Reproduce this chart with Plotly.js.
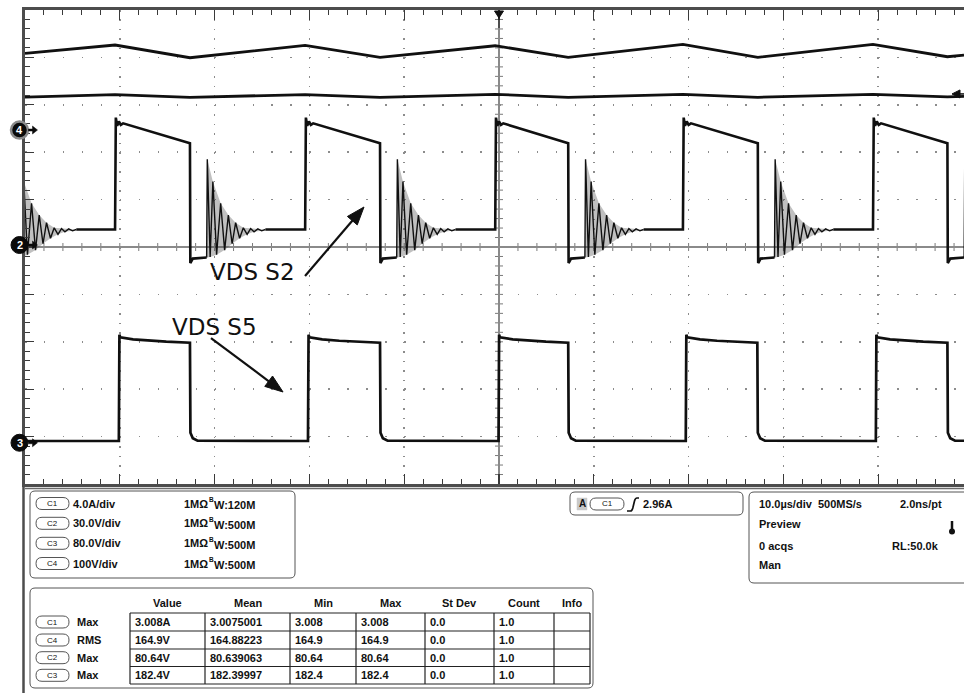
<!DOCTYPE html>
<html>
<head>
<meta charset="utf-8">
<script src="https://cdn.plot.ly/plotly-3.0.1.min.js"></script>
<style>
  html, body { margin: 0; padding: 0; background: #ffffff; }
  #scope { width: 964px; height: 693px; }
</style>
</head>
<body>
<div id="scope"></div>
<script>
// ---------------- acquisition settings ----------------
const channelNames     = ['C1', 'C2', 'C3', 'C4'];
const channelScales    = [4.0, 30.0, 80.0, 100.0];      // units / div
const channelPositions = [2.468, 0.042, -4.13, 2.468];  // ground level, div from centre
const channelBandwidth = ['120M', '500M', '500M', '500M'];
const channelScaleText = ['4.0A/div', '30.0V/div', '80.0V/div', '100V/div'];
const timeRange   = [-50, 49.05];   // µs, trigger at t = 0 (10 µs/div)
const triggerLevel = 2.96;          // A, rising edge on C1

// ---------------- C4: bus voltage (V) ----------------
const c4Time  = [-50, -40.5, -32.6, -20.45, -12.55, -0.4, 7.3, 19.4, 27.3, 39.45, 47.3, 49.05];
const c4Volts = [161.8, 179.3, 152.5, 178.5, 153.3, 177.8, 153.3, 180.8, 153.3, 180.8, 154.6, 158.0];

// ---------------- C1: current (A) ----------------
const c1Time = [-50, -40.5, -32.6, -20.45, -12.55, -0.4, 7.3, 19.4, 27.3, 39.45, 47.3, 49.05];
const c1Amps = [2.78, 2.99, 2.76, 2.99, 2.76, 3.008, 2.76, 3.0, 2.76, 3.0, 2.79, 2.84];

// ---------------- C2: VDS S2 (V) ----------------
const c2RiseTimes  = [-40.5, -20.45, -0.4, 19.4, 39.45];
const c2FallTimes  = [-52.55, -32.6, -12.55, 7.3, 27.3, 47.3];
const c2RiseOffset = [0, 0.08, 0.22, 0.4, 0.6, 0.85];          // µs after rising edge
const c2RiseVolts  = [9.8, 80.64, 75.5, 78.2, 76.0, 77.0];
const c2FallOffset = [0, 0.04, 0.3, 1.76];                      // µs after falling edge
const c2FallVolts  = [64.4, -11.4, -8.6, -7.9];
// ringing extrema after the turn-on of the complementary switch (peak, trough, peak, ...)
const c2RingOffset = [0.07, 0.37, 0.66, 1.05, 1.48, 1.9, 2.29, 2.69, 3.06, 3.48, 3.87, 4.27, 4.64, 5.0, 5.4, 5.8, 6.2];
const c2RingVolts  = [54.2, -7.6, 40.1, -6.2, 26.4, -3.2, 19.0, 0.8, 14.1, 4.3, 10.9, 6.8, 10.4, 8.4, 10.2, 9.0, 9.8];

// ---------------- C3: VDS S5 (V) ----------------
const c3RiseTimes  = [-40.1, -20.15, -0.05, 19.7, 39.75];
const c3FallTimes  = [-32.6, -12.55, 7.3, 27.25, 47.3];
const c3RiseOffset = [0, 0.06, 0.15, 1.5, 3.3, 5.0];
const c3RiseVolts  = [3.0, 182.4, 178.0, 174.6, 172.2, 170.6];
const c3FallOffset = [0, 0.05, 0.3, 0.8];
const c3FallVolts  = [168.9, 17.0, 7.5, 3.5];
const c3LowVolts   = 3.0;

// ---------------- measurement table ----------------
const measHeaders = ['Value', 'Mean', 'Min', 'Max', 'St Dev', 'Count', 'Info'];
const measSource  = ['C1', 'C4', 'C2', 'C3'];
const measType    = ['Max', 'RMS', 'Max', 'Max'];
const measValue   = ['3.008A', '164.9V', '80.64V', '182.4V'];
const measMean    = ['3.0075001', '164.88223', '80.639063', '182.39997'];
const measMin     = ['3.008', '164.9', '80.64', '182.4'];
const measMax     = ['3.008', '164.9', '80.64', '182.4'];
const measStdDev  = ['0.0', '0.0', '0.0', '0.0'];
const measCount   = ['1.0', '1.0', '1.0', '1.0'];
const measInfo    = ['', '', '', ''];

// ---------------- helpers ----------------
function chIdx(name) { return channelNames.indexOf(name); }
function toDiv(name, values) {
  const i = chIdx(name);
  return values.map(v => (v === null ? null : v / channelScales[i] + channelPositions[i]));
}

function buildC2() {
  const mx = [], my = [], rx = [], ry = [], env = [];
  c2FallTimes.forEach(tf => {
    c2FallOffset.forEach((o, k) => { mx.push(tf + o); my.push(c2FallVolts[k]); });
    const ringStart = tf + c2FallOffset[c2FallOffset.length - 1];
    const startV = c2FallVolts[c2FallVolts.length - 1];
    rx.push(ringStart); ry.push(startV);
    const up = [], dn = [];
    c2RingOffset.forEach((o, k) => {
      rx.push(ringStart + o); ry.push(c2RingVolts[k]);
      (k % 2 === 0 ? up : dn).push([ringStart + o, c2RingVolts[k]]);
    });
    rx.push(null); ry.push(null);
    // envelope of the dense ringing: peaks forward, troughs back
    const poly = [[ringStart, startV]].concat(up, dn.slice().reverse());
    env.push({ x: poly.map(p => p[0]), y: poly.map(p => p[1]) });
    mx.push(null); my.push(null);
    const ringEnd = ringStart + c2RingOffset[c2RingOffset.length - 1];
    mx.push(ringEnd); my.push(c2RingVolts[c2RingVolts.length - 1]);
    const tr = c2RiseTimes.find(t => t > tf);
    if (tr !== undefined) {
      c2RiseOffset.forEach((o, k) => { mx.push(tr + o); my.push(c2RiseVolts[k]); });
    } else {
      mx.push(timeRange[1] + 5); my.push(c2RiseVolts[0]);
    }
  });
  return { mx, my, rx, ry, env };
}

function buildC3() {
  const x = [timeRange[0]], y = [c3LowVolts];
  c3RiseTimes.forEach((tr, i) => {
    c3RiseOffset.forEach((o, k) => { x.push(tr + o); y.push(c3RiseVolts[k]); });
    const tf = c3FallTimes[i];
    c3FallOffset.forEach((o, k) => { x.push(tf + o); y.push(c3FallVolts[k]); });
  });
  x.push(timeRange[1] + 5); y.push(c3LowVolts);
  return { x, y };
}

const c2 = buildC2();
const c3 = buildC3();
const ink = '#101010';

const traces = [];
c2.env.forEach(e => traces.push({
  x: e.x, y: toDiv('C2', e.y), mode: 'lines', fill: 'toself', fillcolor: 'rgba(70,70,70,0.34)',
  line: { width: 0, color: 'rgba(0,0,0,0)' }, name: 'C2 ringing band'
}));
traces.push(
  { x: c4Time, y: toDiv('C4', c4Volts), name: 'C4', mode: 'lines', line: { color: ink, width: 2.8 } },
  { x: c1Time, y: toDiv('C1', c1Amps), name: 'C1', mode: 'lines', line: { color: ink, width: 2.8 } },
  { x: c2.mx, y: toDiv('C2', c2.my), name: 'C2', mode: 'lines', line: { color: ink, width: 2.6 }, connectgaps: false },
  { x: c2.rx, y: toDiv('C2', c2.ry), name: 'C2 ringing', mode: 'lines', line: { color: ink, width: 1.4 }, connectgaps: false },
  { x: c3.x, y: toDiv('C3', c3.y), name: 'C3', mode: 'lines', line: { color: ink, width: 2.7 } }
);

// ---------------- screen geometry ----------------
const L = 25, T = 10, W = 939, H = 474;
const px = v => (v - L) / W;
const py = v => (T + H - v) / H;
const P = (x, y) => (x - L).toFixed(2) + ',' + (T + H - y).toFixed(2);

const shapes = [];
const ann = [];

function pixShape(d, fill, lineColor, lineWidth) {
  shapes.push({
    type: 'path', xref: 'paper', yref: 'paper', xsizemode: 'pixel', ysizemode: 'pixel',
    xanchor: 0, yanchor: 0, path: d, fillcolor: fill || 'rgba(0,0,0,0)',
    line: { color: lineColor || 'rgba(0,0,0,0)', width: lineWidth === undefined ? 1 : lineWidth },
    layer: 'above'
  });
}
function roundRect(x0, y0, x1, y1, r) {
  return 'M' + P(x0 + r, y0) + ' L' + P(x1 - r, y0) + ' Q' + P(x1, y0) + ' ' + P(x1, y0 + r) +
    ' L' + P(x1, y1 - r) + ' Q' + P(x1, y1) + ' ' + P(x1 - r, y1) +
    ' L' + P(x0 + r, y1) + ' Q' + P(x0, y1) + ' ' + P(x0, y1 - r) +
    ' L' + P(x0, y0 + r) + ' Q' + P(x0, y0) + ' ' + P(x0 + r, y0) + ' Z';
}
function text(x, y, s, opt) {
  opt = opt || {};
  ann.push({
    xref: 'paper', yref: 'paper', x: px(x), y: py(y), text: s, showarrow: false,
    xanchor: opt.anchor || 'left', yanchor: 'middle',
    font: { family: opt.family || 'Liberation Sans, Arial, sans-serif', size: opt.size || 11, color: opt.color || '#111' }
  });
}
function pill(x0, cy, w, h, label) {
  pixShape(roundRect(x0, cy - h / 2, x0 + w, cy + h / 2, h / 2), '#ffffff', '#555555', 1);
  text(x0 + w / 2, cy, label, { anchor: 'center', size: 8 });
}

// ---------------- graticule extras ----------------
// ticks on the centre cross-hair
for (let t = -48; t <= 48; t += 2) {
  if (t === 0) continue;
  shapes.push({ type: 'line', xref: 'x', yref: 'y', x0: t, x1: t, ysizemode: 'pixel', yanchor: 0, y0: -4, y1: 4,
    line: { color: '#7a7a7a', width: 1 }, layer: 'below' });
}
for (let k = -24; k <= 24; k++) {
  if (k === 0) continue;
  const v = k * 0.2;
  shapes.push({ type: 'line', xref: 'x', yref: 'y', y0: v, y1: v, xsizemode: 'pixel', xanchor: 0, x0: -4, x1: 4,
    line: { color: '#7a7a7a', width: 1 }, layer: 'below' });
}
// second rule under the graticule and left rule continuing down
shapes.push({ type: 'line', xref: 'paper', yref: 'paper', x0: 0, x1: 1.02, y0: py(488.5), y1: py(488.5),
  line: { color: '#6a6a6a', width: 1.5 }, layer: 'above' });
shapes.push({ type: 'line', xref: 'paper', yref: 'paper', x0: px(23.5), x1: px(23.5), y0: py(485), y1: py(693),
  line: { color: '#4d4d4d', width: 2.5 }, layer: 'above' });

// trigger position marker (top centre)
shapes.push({ type: 'path', xref: 'x', yref: 'paper', xsizemode: 'pixel', ysizemode: 'pixel', xanchor: 0, yanchor: 1,
  path: 'M-4.5,-1 L4.5,-1 L0,-8 Z', fillcolor: ink, line: { color: ink, width: 1 }, layer: 'above' });
shapes.push({ type: 'path', xref: 'x', yref: 'paper', xsizemode: 'pixel', ysizemode: 'pixel', xanchor: 0, yanchor: 1,
  path: 'M0,-8 L0,-18', line: { color: ink, width: 1 }, layer: 'above' });

// trigger level marker (right edge, C1)
const trigDiv = triggerLevel / channelScales[chIdx('C1')] + channelPositions[chIdx('C1')];
shapes.push({ type: 'path', xref: 'paper', yref: 'y', xsizemode: 'pixel', ysizemode: 'pixel', xanchor: 1, yanchor: trigDiv,
  path: 'M-12,1 L-4,5 L-4,-3 Z', fillcolor: ink, line: { color: ink, width: 1 }, layer: 'above' });
shapes.push({ type: 'path', xref: 'paper', yref: 'y', xsizemode: 'pixel', ysizemode: 'pixel', xanchor: 1, yanchor: trigDiv,
  path: 'M-5,1 L0,1', line: { color: ink, width: 1.5 }, layer: 'above' });

// channel ground markers
[['C4', '4', true], ['C2', '2', false], ['C3', '3', false]].forEach(([ch, lab, ring]) => {
  const yv = channelPositions[chIdx(ch)];
  shapes.push({ type: 'circle', xref: 'paper', yref: 'y', xsizemode: 'pixel', ysizemode: 'pixel',
    xanchor: px(19.5), yanchor: yv, x0: -8.5, x1: 8.5, y0: -8.5, y1: 8.5,
    fillcolor: '#0a0a0a', line: { color: ring ? '#8a8a8a' : '#0a0a0a', width: ring ? 2.5 : 1 }, layer: 'above' });
  shapes.push({ type: 'path', xref: 'paper', yref: 'y', xsizemode: 'pixel', ysizemode: 'pixel',
    xanchor: px(19.5), yanchor: yv, path: 'M9,-1 L13,-1 L13,-4 L18,0 L13,4 L13,1 L9,1 Z',
    fillcolor: '#0a0a0a', line: { color: '#0a0a0a', width: 0.5 }, layer: 'above' });
  ann.push({ xref: 'paper', yref: 'y', x: px(19.5), y: yv, text: '<b>' + lab + '</b>', showarrow: false,
    xanchor: 'center', yanchor: 'middle', font: { family: 'Liberation Sans, Arial, sans-serif', size: 11, color: '#ffffff' } });
});

// ---------------- waveform labels with arrows ----------------
const PX_PER_US = 9.48, PX_PER_DIV = 47.4;
function arrow(tail, tip) {
  const dx = (tip[0] - tail[0]) * PX_PER_US, dy = (tip[1] - tail[1]) * PX_PER_DIV;
  const len = Math.hypot(dx, dy), ux = dx / len, uy = dy / len;
  const hl = 18, hw = 6.5;
  const bx = -ux * hl, by = -uy * hl;
  const p1 = [bx - uy * hw, by + ux * hw], p2 = [bx + uy * hw, by - ux * hw];
  shapes.push({ type: 'line', xref: 'x', yref: 'y', x0: tail[0], y0: tail[1],
    x1: tip[0] - ux * hl * 0.6 / PX_PER_US, y1: tip[1] - uy * hl * 0.6 / PX_PER_DIV,
    line: { color: ink, width: 2.2 }, layer: 'above' });
  shapes.push({ type: 'path', xref: 'x', yref: 'y', xsizemode: 'pixel', ysizemode: 'pixel',
    xanchor: tip[0], yanchor: tip[1],
    path: 'M0,0 L' + p1[0].toFixed(2) + ',' + p1[1].toFixed(2) + ' L' + p2[0].toFixed(2) + ',' + p2[1].toFixed(2) + ' Z',
    fillcolor: ink, line: { color: ink, width: 1 }, layer: 'above' });
}
arrow([-20.46, -0.612], [-14.24, 0.844]);
arrow([-30.38, -1.92], [-22.78, -3.059]);
ann.push({ xref: 'x', yref: 'y', x: -26.05, y: -0.53, text: 'VDS S2', showarrow: false, xanchor: 'center', yanchor: 'middle',
  font: { family: 'DejaVu Sans', size: 23, color: '#111' } });
ann.push({ xref: 'x', yref: 'y', x: -29.96, y: -1.68, text: 'VDS S5', showarrow: false, xanchor: 'center', yanchor: 'middle',
  font: { family: 'DejaVu Sans', size: 23, color: '#111' } });

// ---------------- channel settings panel ----------------
pixShape(roundRect(30, 491, 295, 578, 5), '#ffffff', '#555555', 1);
const rowY = [503.5, 523.3, 543.3, 563.5];
channelNames.forEach((ch, i) => {
  pill(36, rowY[i], 33, 12, ch);
  text(71, rowY[i], '<b>' + channelScaleText[i] + '</b>');
  text(182, rowY[i], '<b>1MΩ</b>');
  text(206.5, rowY[i] - 4, '<b>B</b>', { size: 6.5 });
  text(211.5, rowY[i] + 1.2, '<b>W:' + channelBandwidth[i] + '</b>');
});

// ---------------- trigger panel ----------------
pixShape(roundRect(570, 492, 743, 515, 5), '#ffffff', '#555555', 1);
pixShape('M' + P(577, 498) + ' L' + P(587, 498) + ' L' + P(587, 510) + ' L' + P(577, 510) + ' Z', '#c8c8c8', '#c8c8c8', 0.5);
text(582, 504, '<b>A</b>', { anchor: 'center', size: 10 });
pill(590, 504, 34, 12, channelNames[0]);
pixShape('M' + P(627, 511) + ' L' + P(630.5, 511) + ' Q' + P(632, 511) + ' ' + P(632.8, 508) +
  ' L' + P(634.5, 501) + ' Q' + P(635.3, 498) + ' ' + P(637, 498) + ' L' + P(639, 498), null, '#111', 1.7);
text(640.5, 504, '<b>' + triggerLevel.toFixed(2) + 'A</b>');

// ---------------- timebase panel ----------------
pixShape(roundRect(749, 492, 990, 583, 5), '#ffffff', '#555555', 1);
text(757, 503.5, '<b>10.0µs/div  500MS/s</b>');
text(898, 503.5, '<b>2.0ns/pt</b>');
text(757, 524, '<b>Preview</b>');
text(757, 545.5, '<b>0 acqs</b>');
text(890, 545.5, '<b>RL:50.0k</b>');
text(757, 564.5, '<b>Man</b>');
pixShape('M' + P(952, 521) + ' L' + P(952, 530), null, '#111', 2.5);
shapes.push({ type: 'circle', xref: 'paper', yref: 'paper', xsizemode: 'pixel', ysizemode: 'pixel',
  xanchor: px(952), yanchor: py(531.5), x0: -3, x1: 3, y0: -3, y1: 3, fillcolor: '#111', line: { color: '#111', width: 0 }, layer: 'above' });

// ---------------- measurement table ----------------
pixShape(roundRect(30, 588, 593, 688, 5), '#ffffff', '#555555', 1);
const colEdges = [130, 205, 290, 356, 425, 494, 554, 590];
const rowEdges = [613, 631, 649, 666.5, 684];
const rowMid   = [622, 640, 657.7, 675.3];
colEdges.forEach(x => pixShape('M' + P(x, rowEdges[0]) + ' L' + P(x, rowEdges[rowEdges.length - 1]), null, '#222', 1.2));
rowEdges.forEach(y => pixShape('M' + P(colEdges[0], y) + ' L' + P(colEdges[colEdges.length - 1], y), null, '#222', 1.2));
measHeaders.forEach((h, j) => text((colEdges[j] + colEdges[j + 1]) / 2, 603, '<b>' + h + '</b>', { anchor: 'center' }));
const measCols = [measValue, measMean, measMin, measMax, measStdDev, measCount, measInfo];
measSource.forEach((src, i) => {
  pill(36, rowMid[i], 33, 12, src);
  text(75, rowMid[i], '<b>' + measType[i] + '</b>');
  measCols.forEach((col, j) => { if (col[i]) text(colEdges[j] + 3, rowMid[i], '<b>' + col[i] + '</b>'); });
});

// ---------------- layout ----------------
const gridColor = '#8c8c8c', rimColor = '#4d4d4d', tickColor = '#3a3a3a';
const layout = {
  width: 964, height: 693,
  margin: { l: L, r: 964 - L - W, t: T, b: 693 - T - H, pad: 0 },
  paper_bgcolor: '#ffffff', plot_bgcolor: '#ffffff',
  showlegend: false, hovermode: false,
  xaxis: {
    range: timeRange, tick0: 0, dtick: 10, showticklabels: false, fixedrange: true,
    showgrid: true, gridcolor: gridColor, gridwidth: 1.5, griddash: '1.5px,7.98px',
    zeroline: true, zerolinecolor: '#8a8a8a', zerolinewidth: 1.5,
    showline: true, linecolor: rimColor, linewidth: 3, mirror: 'ticks',
    ticks: 'inside', ticklen: 10, tickwidth: 1.2, tickcolor: tickColor,
    minor: { tick0: 0, dtick: 2, ticks: 'inside', ticklen: 5, tickwidth: 1, tickcolor: tickColor, showgrid: false }
  },
  yaxis: {
    range: [-5, 5], tick0: 0, dtick: 1, showticklabels: false, fixedrange: true,
    showgrid: true, gridcolor: gridColor, gridwidth: 1.5, griddash: '1.5px,17.46px',
    zeroline: true, zerolinecolor: '#8a8a8a', zerolinewidth: 1.5,
    showline: true, linecolor: rimColor, linewidth: 3, mirror: false,
    ticks: 'inside', ticklen: 9, tickwidth: 1.2, tickcolor: tickColor,
    minor: { tick0: 0, dtick: 0.2, ticks: 'inside', ticklen: 5, tickwidth: 1, tickcolor: tickColor, showgrid: false }
  },
  shapes: shapes,
  annotations: ann
};

Plotly.newPlot('scope', traces, layout, { staticPlot: true, displayModeBar: false });
</script>
</body>
</html>
